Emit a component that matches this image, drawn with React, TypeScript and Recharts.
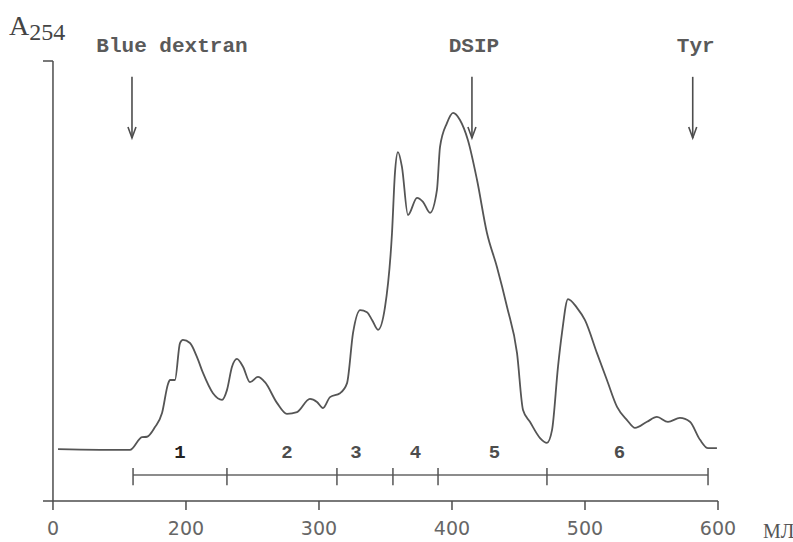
import React from 'react';
import { LineChart, Line, XAxis, YAxis, ReferenceLine, ReferenceDot, Customized } from 'recharts';

// Elution volume (ml, in the axis' own coordinates) and A254 (arbitrary units, 0-100)
const volumes = [
  103.8, 157.9, 166.9, 170.7, 176.7, 182.0, 186.5, 188.0, 191.7, 195.5, 197.7, 203.0,
  208.3, 212.8, 220.3, 227.1, 230.8, 234.6, 238.3, 242.9, 248.1, 254.1, 259.4, 268.4,
  275.9, 283.5, 293.2, 298.5, 303.0, 308.3, 315.8, 321.1, 325.6, 331.0, 336.1, 340.0,
  344.4, 349.6, 354.9, 357.1, 359.4, 362.4, 366.9, 373.7, 378.2, 383.5, 388.7, 391.0,
  396.2, 400.8, 406.0, 412.0, 418.8, 426.3, 433.8, 441.4, 448.9, 453.4, 458.6, 466.2,
  471.4, 475.2, 479.7, 482.7, 487.2, 494.0, 500.0, 509.0, 516.5, 524.1, 531.6, 537.6,
  546.6, 554.1, 562.4, 571.4, 578.9, 586.5, 592.5, 599.2,
];
const absorbance = [
  11.8, 11.6, 14.5, 14.6, 16.8, 20.0, 26.6, 27.5, 27.5, 35.9, 36.6, 35.9,
  32.7, 29.1, 24.5, 23.0, 25.2, 30.5, 32.3, 30.5, 27.0, 28.2, 27.0, 22.3,
  19.8, 20.2, 23.2, 22.5, 21.1, 23.6, 24.5, 26.8, 38.2, 43.4, 42.9, 41.1,
  38.9, 44.0, 60.9, 74.5, 79.3, 75.9, 65.0, 68.9, 68.0, 65.5, 70.7, 80.5,
  85.9, 88.2, 86.6, 82.0, 73.0, 60.9, 53.2, 44.1, 33.6, 20.7, 18.0, 14.3,
  13.2, 16.1, 30.5, 38.2, 45.9, 43.9, 41.1, 33.6, 27.5, 21.4, 18.4, 16.6,
  18.0, 19.1, 18.0, 18.9, 18.0, 13.9, 12.0, 12.0,
];

const xTicks = [100, 200, 300, 400, 500, 600];
const xTickLabels = ['0', '200', '300', '400', '500', '600'];

const fractionBounds = [160.2, 230.8, 313.5, 355.6, 389.5, 471.4, 592.5];
const fractionNames = ['1', '2', '3', '4', '5', '6'];

const markerNames = ['Blue dextran', 'DSIP', 'Tyr'];
const markerVolumes = [159.4, 415, 581];

const data = volumes.map((v, i) => ({ v, a: absorbance[i] }));

const INK = '#4d4d4d';
const X_MIN = 92.5;
const BAR_Y = 5.9;
const BAR_TICK_TOP = 7.5;
const BAR_TICK_BOTTOM = 3.6;
const FRACTION_LABEL_Y = 10.9;
const ARROW_TOP = 96.4;
const ARROW_TIP = 82.5;
const MARKER_TEXT_Y = 102;
const markerTextShift = [40, 2, 3];
const fractionTextShift = [0, 5, -9, 0, 2, -8];

const arrowHead = (props: any) => {
  const { cx, cy } = props;
  return (
    <path
      d={`M${cx - 4},${cy - 11} L${cx},${cy} L${cx + 4},${cy - 11}`}
      fill="none"
      stroke={INK}
      strokeWidth={1.6}
    />
  );
};

const markerText = (label: string, shift: number) => (props: any) => {
  const { cx, cy } = props;
  return (
    <text
      x={cx + shift}
      y={cy}
      textAnchor="middle"
      fontFamily="'Liberation Mono', monospace"
      fontWeight="bold"
      fontSize={21}
      fill="#5a5a5a"
    >
      {label}
    </text>
  );
};

const fractionText = (label: string, shift: number) => (props: any) => {
  const { cx, cy } = props;
  return (
    <text
      x={cx + shift}
      y={cy}
      textAnchor="middle"
      dominantBaseline="central"
      fontFamily="'Liberation Mono', monospace"
      fontWeight="bold"
      fontSize={19}
      fill={label === '1' ? '#222' : INK}
    >
      {label}
    </text>
  );
};

const Extras = () => (
  <g>
    <text x={9} y={35} fontFamily="'Liberation Serif', serif" fontSize={28} fill="#444">
      A
      <tspan fontSize={24} dy={5}>254</tspan>
    </text>
    <text x={763} y={538} fontFamily="'Liberation Serif', serif" fontSize={20} fill="#555">
      МЛ
    </text>
  </g>
);

export default function App() {
  return (
    <div style={{ position: 'absolute', left: 0, top: 0, width: 793, height: 542, background: '#fff' }}>
      <LineChart
        width={793}
        height={542}
        data={data}
        margin={{ top: 61, right: 75, bottom: 11, left: 43 }}
      >
        <XAxis
          dataKey="v"
          type="number"
          domain={[X_MIN, 600]}
          allowDataOverflow
          ticks={xTicks}
          tickFormatter={(v: number) => xTickLabels[xTicks.indexOf(v)] ?? String(v)}
          height={30}
          tickSize={9}
          tickMargin={12}
          stroke={INK}
          strokeWidth={1.5}
          tick={{ fontFamily: "'DejaVu Sans', sans-serif", fontSize: 19, fill: '#666' }}
        />
        <YAxis hide type="number" domain={[0, 100]} allowDataOverflow />
        {/* y axis line and its top tick */}
        <ReferenceLine
          segment={[{ x: 100, y: 0 }, { x: 100, y: 100 }]}
          stroke={INK}
          strokeWidth={1.5}
          ifOverflow="visible"
        />
        <ReferenceLine
          segment={[{ x: X_MIN, y: 100 }, { x: 100, y: 100 }]}
          stroke={INK}
          strokeWidth={1.5}
          ifOverflow="visible"
        />
        {/* fraction bar */}
        <ReferenceLine
          segment={[{ x: fractionBounds[0], y: BAR_Y }, { x: fractionBounds[fractionBounds.length - 1], y: BAR_Y }]}
          stroke="#666"
          strokeWidth={1.5}
          ifOverflow="visible"
        />
        {fractionBounds.map((b, i) => (
          <ReferenceLine
            key={`fb${i}`}
            segment={[{ x: b, y: BAR_TICK_BOTTOM }, { x: b, y: BAR_TICK_TOP }]}
            stroke="#555"
            strokeWidth={1.5}
            ifOverflow="visible"
          />
        ))}
        {fractionNames.map((n, i) => (
          <ReferenceDot
            key={`fn${i}`}
            x={(fractionBounds[i] + fractionBounds[i + 1]) / 2}
            y={FRACTION_LABEL_Y}
            r={0}
            ifOverflow="visible"
            shape={fractionText(n, fractionTextShift[i])}
          />
        ))}
        {/* marker arrows */}
        {markerVolumes.map((m, i) => (
          <ReferenceLine
            key={`ms${i}`}
            segment={[{ x: m, y: ARROW_TOP }, { x: m, y: ARROW_TIP }]}
            stroke={INK}
            strokeWidth={1.6}
            ifOverflow="visible"
          />
        ))}
        {markerVolumes.map((m, i) => (
          <ReferenceDot key={`mh${i}`} x={m} y={ARROW_TIP} r={0} ifOverflow="visible" shape={arrowHead} />
        ))}
        {markerVolumes.map((m, i) => (
          <ReferenceDot
            key={`mt${i}`}
            x={m}
            y={MARKER_TEXT_Y}
            r={0}
            ifOverflow="visible"
            shape={markerText(markerNames[i], markerTextShift[i])}
          />
        ))}
        <Line
          type="monotone"
          dataKey="a"
          stroke="#555"
          strokeWidth={1.8}
          dot={false}
          activeDot={false}
          isAnimationActive={false}
        />
        <Customized component={Extras} />
      </LineChart>
    </div>
  );
}
